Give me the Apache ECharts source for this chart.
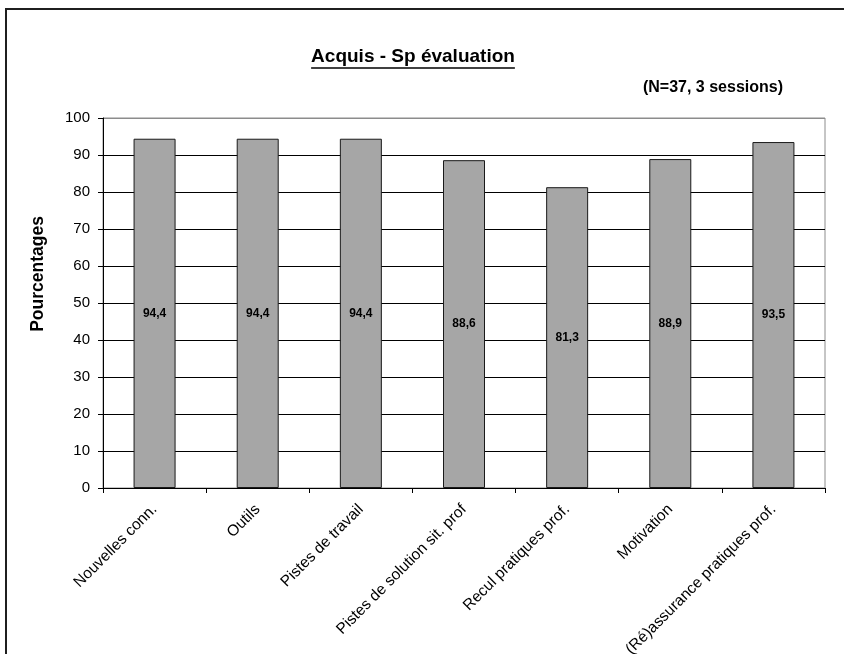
<!DOCTYPE html>
<html>
<head>
<meta charset="utf-8">
<script src="https://cdn.jsdelivr.net/npm/echarts@6/dist/echarts.min.js"></script>
<style>
  html, body { margin: 0; padding: 0; background: #fff; }
  #chart { width: 844px; height: 654px; }
</style>
</head>
<body>
<div id="chart"></div>
<script>
// Categories and percentages of the "Acquis" evaluation
const categories = [
  'Nouvelles conn.',
  'Outils',
  'Pistes de travail',
  'Pistes de solution sit. prof',
  'Recul pratiques prof.',
  'Motivation',
  '(Ré)assurance pratiques prof.'
];
const values = [94.4, 94.4, 94.4, 88.6, 81.3, 88.9, 93.5];

// Value axis range
const yMin = 0;
const yMax = 100;
const yStep = 10;

const titleText = 'Acquis - Sp évaluation';
const subtitleText = '(N=37, 3 sessions)';
const yAxisTitle = 'Pourcentages';

const chart = echarts.init(document.getElementById('chart'), null, { renderer: 'canvas' });

const titleFont = 'bold 19px "Liberation Sans Narrow", "Liberation Sans", Arial, sans-serif';
const subFont = 'bold 16px "Liberation Sans Narrow", "Liberation Sans", Arial, sans-serif';

function textWidth(txt, font) {
  const ctx = document.createElement('canvas').getContext('2d');
  ctx.font = font;
  return ctx.measureText(txt).width;
}

const titleCx = 413;
const titleY = 57;
const titleW = textWidth(titleText, titleFont);

// split line colours: black inside the plot, grey on the top border
const splitColors = [];
for (let v = yMin; v <= yMax; v += yStep) splitColors.push(v === yMax ? '#8c8c8c' : '#000');

chart.setOption({
  animation: false,
  backgroundColor: '#fff',
  grid: {
    left: 103, right: 19, top: 118, bottom: 166,
    containLabel: false,
    outerBoundsMode: 'none',
    show: true, borderColor: '#8c8c8c', borderWidth: 1, backgroundColor: 'transparent'
  },
  xAxis: {
    type: 'category',
    data: categories,
    axisLine: { lineStyle: { color: '#000', width: 1 } },
    axisTick: { show: true, alignWithLabel: false, length: 5, lineStyle: { color: '#000' } },
    axisLabel: {
      interval: 0, rotate: 45, margin: 19,
      color: '#000', fontSize: 15.5, fontFamily: '"Liberation Sans", Arial, sans-serif'
    },
    splitLine: { show: false }
  },
  yAxis: {
    type: 'value',
    min: yMin, max: yMax, interval: yStep,
    axisLine: { show: true, lineStyle: { color: '#000', width: 1 } },
    axisTick: { show: true, length: 5, lineStyle: { color: '#000' } },
    axisLabel: {
      margin: 13, color: '#000', fontSize: 15,
      fontFamily: '"Liberation Sans", Arial, sans-serif'
    },
    splitLine: { show: true, lineStyle: { color: splitColors, width: 1 } }
  },
  series: [{
    type: 'bar',
    data: values,
    barWidth: 42,
    itemStyle: { color: '#a6a6a6', borderColor: '#1a1a1a', borderWidth: 1 },
    label: {
      show: true,
      position: 'inside',
      color: '#000',
      fontSize: 12,
      fontWeight: 'bold',
      fontFamily: '"Liberation Sans", Arial, sans-serif',
      formatter: p => p.value.toFixed(1).replace('.', ',')
    }
  }],
  graphic: [
    {
      type: 'rect',
      shape: { x: 6, y: 9, width: 900, height: 700 },
      style: { fill: 'none', stroke: '#1f1f1f', lineWidth: 2 },
      silent: true
    },
    {
      type: 'text',
      x: titleCx, y: titleY,
      style: {
        text: titleText, font: titleFont, fill: '#000',
        textAlign: 'center', textVerticalAlign: 'middle'
      }
    },
    {
      type: 'line',
      shape: { x1: titleCx - titleW / 2, y1: titleY + 11, x2: titleCx + titleW / 2, y2: titleY + 11 },
      style: { stroke: '#000', lineWidth: 1.5 }
    },
    {
      type: 'text',
      x: 783, y: 88,
      style: {
        text: subtitleText, font: subFont, fill: '#000',
        textAlign: 'right', textVerticalAlign: 'middle'
      }
    },
    {
      type: 'text',
      x: 38, y: 274,
      rotation: Math.PI / 2,
      style: {
        text: yAxisTitle,
        font: 'bold 17.5px "Liberation Sans", Arial, sans-serif',
        fill: '#000', textAlign: 'center', textVerticalAlign: 'middle'
      }
    }
  ]
});
</script>
</body>
</html>
